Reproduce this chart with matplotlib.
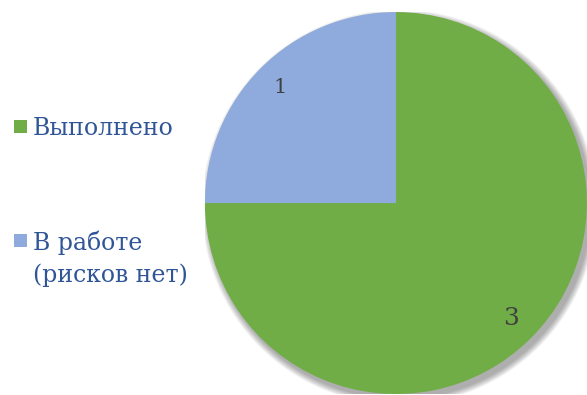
import matplotlib
matplotlib.use("Agg")
import matplotlib.pyplot as plt
from matplotlib.patches import Rectangle, Circle

categories = ["Выполнено", "В работе\n(рисков нет)"]
values = [3, 1]
colors = ["#70AD47", "#8FAADC"]

fig = plt.figure(figsize=(5.87, 3.95), dpi=100)
ax = fig.add_axes([0.349, 0.0025, 0.651, 0.967])
ax.set_xlim(-1, 1)
ax.set_ylim(-1, 1)

# soft shadow behind the pie (mostly lower-right)
n = 10
for i in range(n):
    r = 1.0 + 0.035 * (i + 1) / n
    ax.add_patch(Circle((0.018, -0.022), r, facecolor="#000000", edgecolor="none",
                        alpha=0.035, zorder=0))

wedges, texts = ax.pie(values, colors=colors, startangle=90, counterclock=False,
                       labels=[str(v) for v in values], labeldistance=0.855,
                       textprops=dict(family="DejaVu Serif", color="#404040"),
                       wedgeprops=dict(zorder=2))
label_sizes = [18, 15]
for t, s in zip(texts, label_sizes):
    t.set_fontsize(s)
    t.set_zorder(3)
    t.set_ha("center")
    t.set_va("center")
ax.set_aspect("equal")
ax.set_xlim(-1, 1)
ax.set_ylim(-1, 1)

text_color = "#2F5597"
ys = [126, 240]
W, H = 587, 395
for cat, col, y in zip(categories, colors, ys):
    fig.patches.append(Rectangle((14 / W, 1 - (y + 7) / H), 13 / W, 13 / H,
                                 transform=fig.transFigure, facecolor=col, edgecolor="none"))
    for k, line in enumerate(cat.split("\n")):
        fig.text(33 / W, 1 - (y + 33 * k) / H, line, family="DejaVu Serif", fontsize=17,
                 color=text_color, va="center_baseline", ha="left")

fig.savefig("out.png", dpi=100)
